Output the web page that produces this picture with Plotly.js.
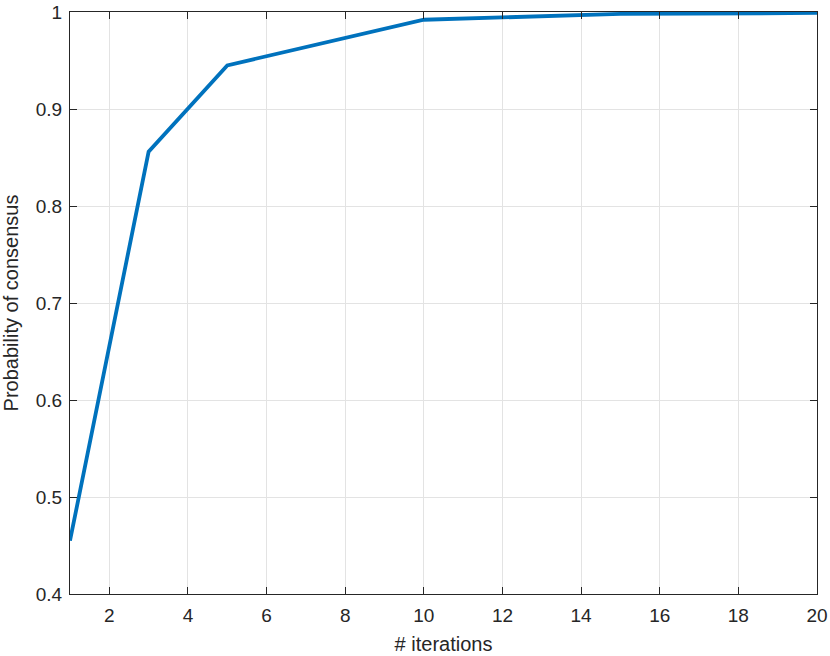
<!DOCTYPE html>
<html>
<head>
<meta charset="utf-8">
<script src="https://cdn.plot.ly/plotly-3.0.1.min.js"></script>
<style>
  html, body { margin: 0; padding: 0; background: #fff; }
  #chart { width: 830px; height: 656px; }
</style>
</head>
<body>
<div id="chart"></div>
<script>
// iterations vs probability of consensus
const iterations = [1, 3, 5, 10, 15, 20];
const probConsensus = [0.455, 0.856, 0.945, 0.992, 0.998, 0.999];

const xTicks = [2, 4, 6, 8, 10, 12, 14, 16, 18, 20];
const yTicks = [0.4, 0.5, 0.6, 0.7, 0.8, 0.9, 1];

const axisCommon = {
  showline: true, mirror: 'ticks', linecolor: '#262626', linewidth: 1,
  ticks: 'inside', ticklen: 7, tickcolor: '#262626', tickwidth: 1,
  showgrid: true, gridcolor: '#e3e3e3', gridwidth: 1,
  zeroline: false,
  tickfont: { family: 'Liberation Sans, Arial, sans-serif', size: 19, color: '#262626' }
};

const trace = {
  x: iterations, y: probConsensus, mode: 'lines',
  line: { color: '#0072BD', width: 3.8 }
};

const layout = {
  width: 830, height: 656,
  margin: { l: 70, r: 13, t: 12, b: 62 },
  paper_bgcolor: '#fff', plot_bgcolor: '#fff',
  showlegend: false,
  xaxis: Object.assign({}, axisCommon, {
    range: [1, 20], tickvals: xTicks, ticktext: xTicks.map(String),
    ticklabelstandoff: 4,
    title: { text: '# iterations', standoff: 12,
      font: { family: 'Liberation Sans, Arial, sans-serif', size: 20, color: '#262626' } }
  }),
  yaxis: Object.assign({}, axisCommon, {
    range: [0.4, 1], tickvals: yTicks, ticktext: yTicks.map(String),
    ticklabelstandoff: 3,
    title: { text: 'Probability of consensus', standoff: 12,
      font: { family: 'Liberation Sans, Arial, sans-serif', size: 20, color: '#262626' } }
  })
};

Plotly.newPlot('chart', [trace], layout, { displayModeBar: false, staticPlot: true });
</script>
</body>
</html>
